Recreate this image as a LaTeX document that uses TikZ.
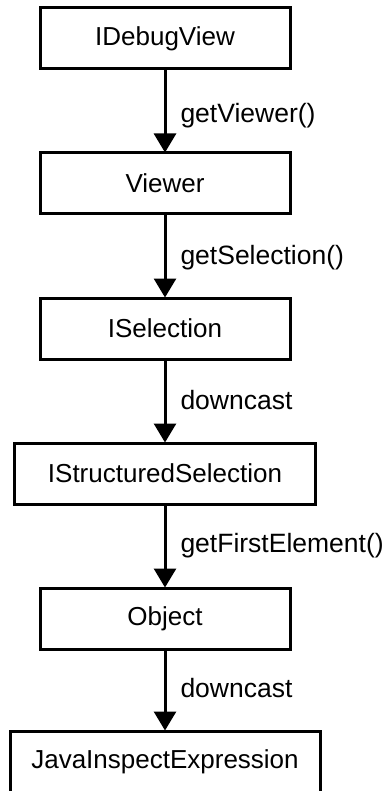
\documentclass[tikz,border=0pt]{standalone}
\usepackage{fontspec}
\setmainfont{Liberation Sans}
\usetikzlibrary{arrows.meta}
\begin{document}
\begin{tikzpicture}[x=1pt,y=-1pt,
  box/.style={draw, line width=3pt, inner sep=0pt, minimum height=61pt, font=\fontsize{26}{30}\selectfont},
  arr/.style={line width=3pt, -{Triangle[width=22pt,length=19pt]}, shorten >=-1pt},
  lab/.style={anchor=west, inner sep=0pt, xshift=14pt, font=\fontsize{26.5}{30}\selectfont}]
\useasboundingbox (0,0) rectangle (391,791);
\node[box, minimum width=250pt] (b1) at (165,38.5) {IDebugView};
\node[box, minimum width=250pt] (b2) at (165,183.5) {Viewer};
\node[box, minimum width=250pt] (b3) at (165,328.5) {ISelection};
\node[box, minimum width=301pt] (b4) at (165,473.5) {IStructuredSelection};
\node[box, minimum width=250pt] (b5) at (165,618.5) {Object};
\node[box, minimum width=310pt] (b6) at (165,761.5) {JavaInspectExpression};
\draw[arr] (b1.south) -- (b2.north) node[lab, pos=0.56] {getViewer()};
\draw[arr] (b2.south) -- (b3.north) node[lab, pos=0.52] {getSelection()};
\draw[arr] (b3.south) -- (b4.north) node[lab, pos=0.49] {downcast};
\draw[arr] (b4.south) -- (b5.north) node[lab, pos=0.49] {getFirstElement()};
\draw[arr] (b5.south) -- (b6.north) node[lab, pos=0.47] {downcast};
\end{tikzpicture}
\end{document}
